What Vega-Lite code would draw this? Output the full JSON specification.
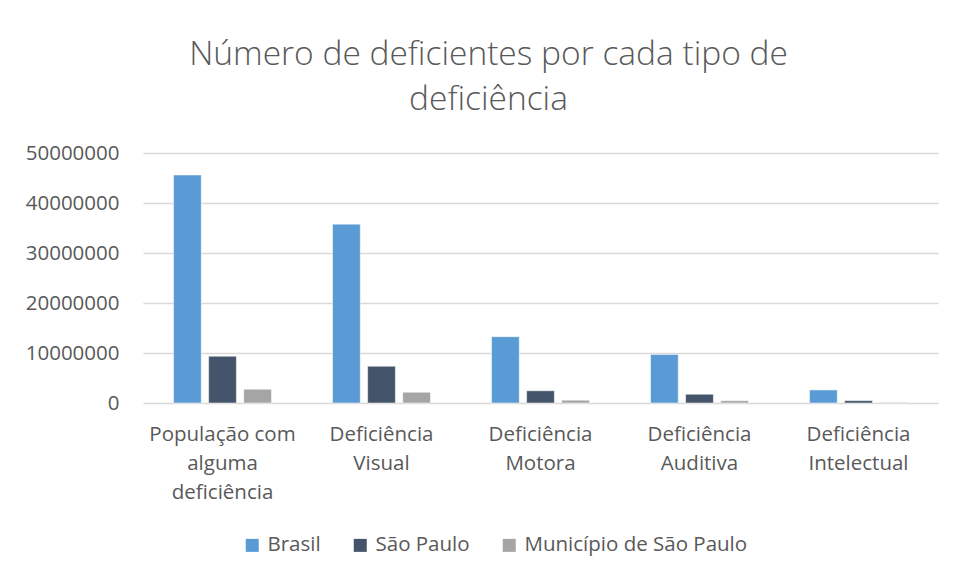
{
  "$schema": "https://vega.github.io/schema/vega-lite/v6.json",
  "width": 795,
  "height": 250,
  "autosize": {"type": "none"},
  "padding": {"left": 143, "top": 153, "right": 17, "bottom": 174},
  "background": "white",
  "title": {
    "text": ["Número de deficientes por cada tipo de", "deficiência"],
    "font": "Open Sans",
    "fontSize": 33.5,
    "fontWeight": 300,
    "color": "#595959",
    "lineHeight": 45,
    "offset": 26,
    "dx": -52,
    "anchor": "middle"
  },
  "data": {
    "values": [
      {"tipo": "População com|alguma|deficiência", "regiao": "Brasil", "valor": 45606048},
      {"tipo": "População com|alguma|deficiência", "regiao": "São Paulo", "valor": 9344109},
      {"tipo": "População com|alguma|deficiência", "regiao": "Município de São Paulo", "valor": 2759004},
      {"tipo": "Deficiência|Visual", "regiao": "Brasil", "valor": 35774392},
      {"tipo": "Deficiência|Visual", "regiao": "São Paulo", "valor": 7347225},
      {"tipo": "Deficiência|Visual", "regiao": "Município de São Paulo", "valor": 2150000},
      {"tipo": "Deficiência|Motora", "regiao": "Brasil", "valor": 13265599},
      {"tipo": "Deficiência|Motora", "regiao": "São Paulo", "valor": 2450000},
      {"tipo": "Deficiência|Motora", "regiao": "Município de São Paulo", "valor": 560000},
      {"tipo": "Deficiência|Auditiva", "regiao": "Brasil", "valor": 9717318},
      {"tipo": "Deficiência|Auditiva", "regiao": "São Paulo", "valor": 1750000},
      {"tipo": "Deficiência|Auditiva", "regiao": "Município de São Paulo", "valor": 460000},
      {"tipo": "Deficiência|Intelectual", "regiao": "Brasil", "valor": 2611536},
      {"tipo": "Deficiência|Intelectual", "regiao": "São Paulo", "valor": 480000},
      {"tipo": "Deficiência|Intelectual", "regiao": "Município de São Paulo", "valor": 130000}
    ]
  },
  "mark": {"type": "bar", "stroke": "white", "strokeWidth": 0.5},
  "encoding": {
    "x": {
      "field": "tipo",
      "type": "nominal",
      "sort": null,
      "scale": {"paddingInner": 0.34, "paddingOuter": 0.17},
      "axis": {
        "title": null,
        "labelExpr": "split(datum.value, '|')",
        "labelAngle": 0,
        "labelFont": "Open Sans",
        "labelFontSize": 20.5,
        "labelColor": "#595959",
        "labelLineHeight": 29,
        "labelPadding": 21,
        "labelBaseline": "top",
        "ticks": false,
        "domain": false,
        "grid": false
      }
    },
    "xOffset": {
      "field": "regiao",
      "type": "nominal",
      "sort": ["Brasil", "São Paulo", "Município de São Paulo"],
      "scale": {"paddingInner": 0.21, "paddingOuter": 0.1}
    },
    "y": {
      "field": "valor",
      "type": "quantitative",
      "scale": {"domain": [0, 50000000]},
      "axis": {
        "title": null,
        "values": [0, 10000000, 20000000, 30000000, 40000000, 50000000],
        "format": "d",
        "labelFont": "Open Sans",
        "labelFontSize": 20.5,
        "labelColor": "#595959",
        "labelPadding": 24,
        "ticks": false,
        "domain": false,
        "gridColor": "#D9D9D9",
        "gridWidth": 1.5
      }
    },
    "color": {
      "field": "regiao",
      "type": "nominal",
      "sort": ["Brasil", "São Paulo", "Município de São Paulo"],
      "scale": {
        "domain": ["Brasil", "São Paulo", "Município de São Paulo"],
        "range": ["#5B9BD5", "#44546A", "#A5A5A5"]
      },
      "legend": {
        "title": null,
        "orient": "none",
        "legendX": 99,
        "legendY": 382,
        "direction": "horizontal",
        "symbolType": "square",
        "symbolSize": 169,
        "symbolStrokeWidth": 0,
        "labelFont": "Open Sans",
        "labelFontSize": 20.5,
        "labelColor": "#595959",
        "labelLimit": 400,
        "columnPadding": 29,
        "labelOffset": 5
      }
    }
  },
  "config": {
    "view": {"stroke": null}
  }
}
